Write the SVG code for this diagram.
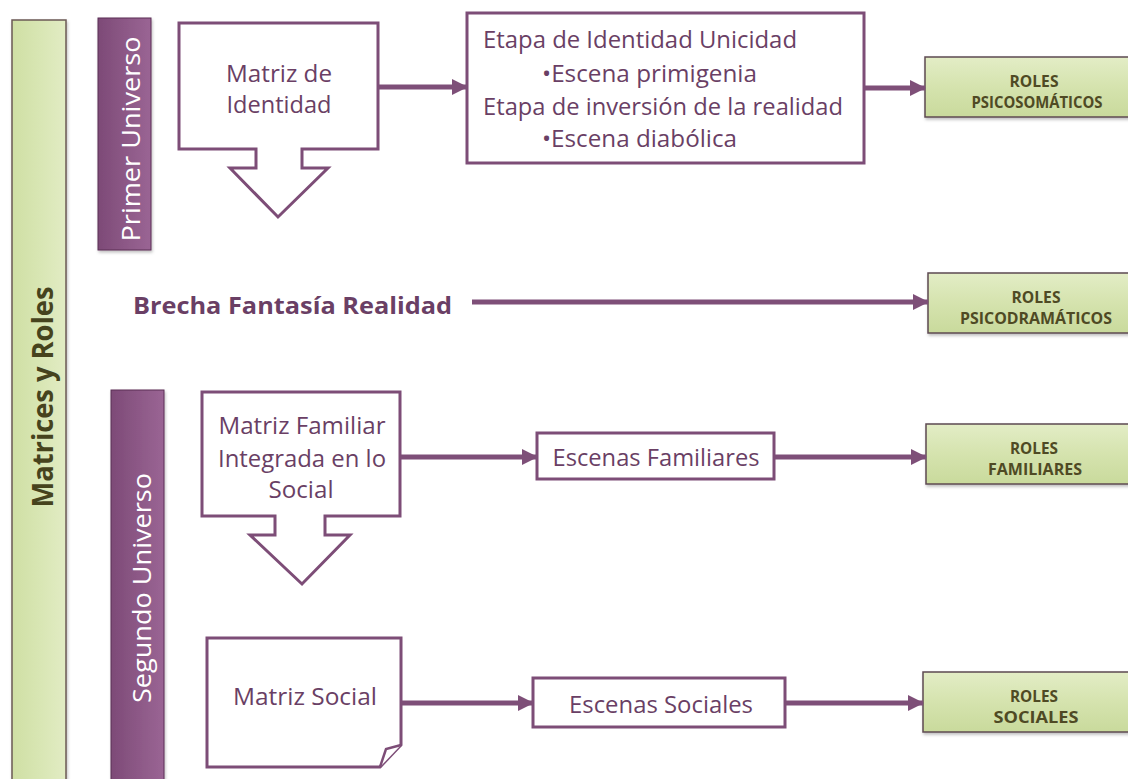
<svg xmlns="http://www.w3.org/2000/svg" width="1128" height="779" viewBox="0 0 1128 779">
<defs>
<style>
.box{fill:#ffffff;stroke:#7d4d77;stroke-width:3}
.txt{font-family:"Open Sans","Liberation Sans",Arial,sans-serif;fill:#6a3f65;font-size:23.5px;text-anchor:middle}
.lft{text-anchor:start}
.role{fill:url(#gGreen);stroke:#5e4a52;stroke-width:1.5}
.roletxt{font-family:"Open Sans","Liberation Sans",Arial,sans-serif;font-weight:bold;fill:#4f4a24;font-size:16px;text-anchor:middle}
.bar{fill:url(#gPurple);stroke:#5a2f55;stroke-width:1}
.bartxt{font-family:"Open Sans","Liberation Sans",Arial,sans-serif;fill:#ffffff;font-size:26px;text-anchor:middle}
.conn{stroke:#7e4f78;stroke-width:5;fill:none;marker-end:url(#ah)}
</style>
<linearGradient id="gGreen" x1="0" y1="0" x2="0" y2="1">
<stop offset="0" stop-color="#e3edc6"/>
<stop offset="0.5" stop-color="#d5e3ae"/>
<stop offset="1" stop-color="#c9da9c"/>
</linearGradient>
<linearGradient id="gGreenV" x1="0" y1="0" x2="1" y2="0">
<stop offset="0" stop-color="#cfdfa4"/>
<stop offset="0.5" stop-color="#d8e6b3"/>
<stop offset="1" stop-color="#e2ecc4"/>
</linearGradient>
<linearGradient id="gPurple" x1="0" y1="0" x2="1" y2="0">
<stop offset="0" stop-color="#7d4a77"/>
<stop offset="0.5" stop-color="#8c5886"/>
<stop offset="1" stop-color="#9a6594"/>
</linearGradient>
<filter id="sh" x="-10%" y="-10%" width="130%" height="140%">
<feDropShadow dx="1" dy="2" stdDeviation="1.5" flood-color="#000" flood-opacity="0.25"/>
</filter>
<marker id="ah" markerUnits="userSpaceOnUse" markerWidth="16" markerHeight="16" refX="15" refY="8" orient="auto">
<path d="M0,0 L16,8 L0,16 Z" fill="#7e4f78"/>
</marker>
</defs>

<g id="matrices-roles">
<rect x="12" y="20" width="54" height="770" fill="url(#gGreenV)" stroke="#6b5a55" stroke-width="1.5" filter="url(#sh)"/>
<text transform="translate(53,397) rotate(-90)" textLength="221" lengthAdjust="spacingAndGlyphs" style="font-family:'Open Sans','Liberation Sans',Arial,sans-serif;font-weight:bold;font-size:29px;fill:#46431d;text-anchor:middle">Matrices y Roles</text>
</g>

<g id="primer-universo">
<rect class="bar" x="98" y="18" width="53" height="232" filter="url(#sh)"/>
<text class="bartxt" transform="translate(140,139) rotate(-90)" textLength="205" lengthAdjust="spacingAndGlyphs">Primer Universo</text>
</g>

<g id="segundo-universo">
<rect class="bar" x="111" y="390" width="53" height="400" filter="url(#sh)"/>
<text class="bartxt" transform="translate(151,588) rotate(-90)" textLength="230" lengthAdjust="spacingAndGlyphs">Segundo Universo</text>
</g>

<g id="matriz-identidad">
<path class="box" d="M179,23 H378 V149 H302 V168 H328 L278,217 L230,168 H256 V149 H179 Z"/>
<text class="txt" x="279" y="82" textLength="106" lengthAdjust="spacingAndGlyphs">Matriz de</text>
<text class="txt" x="279" y="113" textLength="105" lengthAdjust="spacingAndGlyphs">Identidad</text>
</g>

<g id="etapas">
<rect class="box" x="467" y="13" width="397" height="150"/>
<text class="txt lft" x="483" y="48" textLength="314" lengthAdjust="spacingAndGlyphs">Etapa de Identidad Unicidad</text>
<text class="txt lft" x="542" y="82" textLength="215" lengthAdjust="spacingAndGlyphs">•Escena primigenia</text>
<text class="txt lft" x="483" y="115" textLength="360" lengthAdjust="spacingAndGlyphs">Etapa de inversión de la realidad</text>
<text class="txt lft" x="542" y="147" textLength="195" lengthAdjust="spacingAndGlyphs">•Escena diabólica</text>
</g>

<g id="roles-psicosomaticos">
<rect class="role" x="925" y="57" width="230" height="60" filter="url(#sh)"/>
<text class="roletxt" x="1034" y="87" textLength="49" lengthAdjust="spacingAndGlyphs">ROLES</text>
<text class="roletxt" x="1037" y="108" textLength="131" lengthAdjust="spacingAndGlyphs">PSICOSOMÁTICOS</text>
</g>

<g id="brecha">
<text x="133" y="314" textLength="319" lengthAdjust="spacingAndGlyphs" style="font-family:'Open Sans','Liberation Sans',Arial,sans-serif;font-weight:bold;font-size:24px;fill:#6a3f65">Brecha Fantasía Realidad</text>
</g>

<g id="roles-psicodramaticos">
<rect class="role" x="928" y="273" width="230" height="60" filter="url(#sh)"/>
<text class="roletxt" x="1036" y="303" textLength="49" lengthAdjust="spacingAndGlyphs">ROLES</text>
<text class="roletxt" x="1036" y="324" textLength="152" lengthAdjust="spacingAndGlyphs">PSICODRAMÁTICOS</text>
</g>

<g id="matriz-familiar">
<path class="box" d="M202,392 H400 V516 H325 V535 H350 L302,584 L250,535 H275 V516 H202 Z"/>
<text class="txt" x="302" y="434" textLength="167" lengthAdjust="spacingAndGlyphs">Matriz Familiar</text>
<text class="txt" x="302" y="467" textLength="168" lengthAdjust="spacingAndGlyphs">Integrada en lo</text>
<text class="txt" x="301" y="498" textLength="65" lengthAdjust="spacingAndGlyphs">Social</text>
</g>

<g id="escenas-familiares">
<rect class="box" x="537" y="433" width="237" height="46"/>
<text class="txt" x="656" y="466" textLength="207" lengthAdjust="spacingAndGlyphs">Escenas Familiares</text>
</g>

<g id="roles-familiares">
<rect class="role" x="926" y="424" width="230" height="60" filter="url(#sh)"/>
<text class="roletxt" x="1034" y="454" textLength="48" lengthAdjust="spacingAndGlyphs">ROLES</text>
<text class="roletxt" x="1035" y="475" textLength="94" lengthAdjust="spacingAndGlyphs">FAMILIARES</text>
</g>

<g id="matriz-social">
<path class="box" d="M207,638 H401 V745 L380,767 H207 Z"/>
<path d="M401,745 L386,749 L380,767" fill="#ffffff" stroke="#7d4d77" stroke-width="2.5"/>
<text class="txt" x="305" y="705" textLength="144" lengthAdjust="spacingAndGlyphs">Matriz Social</text>
</g>

<g id="escenas-sociales">
<rect class="box" x="533" y="678" width="252" height="49"/>
<text class="txt" x="661" y="713" textLength="184" lengthAdjust="spacingAndGlyphs">Escenas Sociales</text>
</g>

<g id="roles-sociales">
<rect class="role" x="923" y="672" width="230" height="60" filter="url(#sh)"/>
<text class="roletxt" x="1034" y="702" textLength="48" lengthAdjust="spacingAndGlyphs">ROLES</text>
<text class="roletxt" x="1036" y="723" textLength="85" lengthAdjust="spacingAndGlyphs">SOCIALES</text>
</g>

<g id="connectors">
<line class="conn" x1="379" y1="87" x2="467" y2="87"/>
<line class="conn" x1="865" y1="88" x2="925" y2="88"/>
<line class="conn" x1="472" y1="302" x2="928" y2="302"/>
<line class="conn" x1="401" y1="457" x2="537" y2="457"/>
<line class="conn" x1="775" y1="457" x2="926" y2="457"/>
<line class="conn" x1="402" y1="703" x2="533" y2="703"/>
<line class="conn" x1="786" y1="703" x2="923" y2="703"/>
</g>
</svg>
